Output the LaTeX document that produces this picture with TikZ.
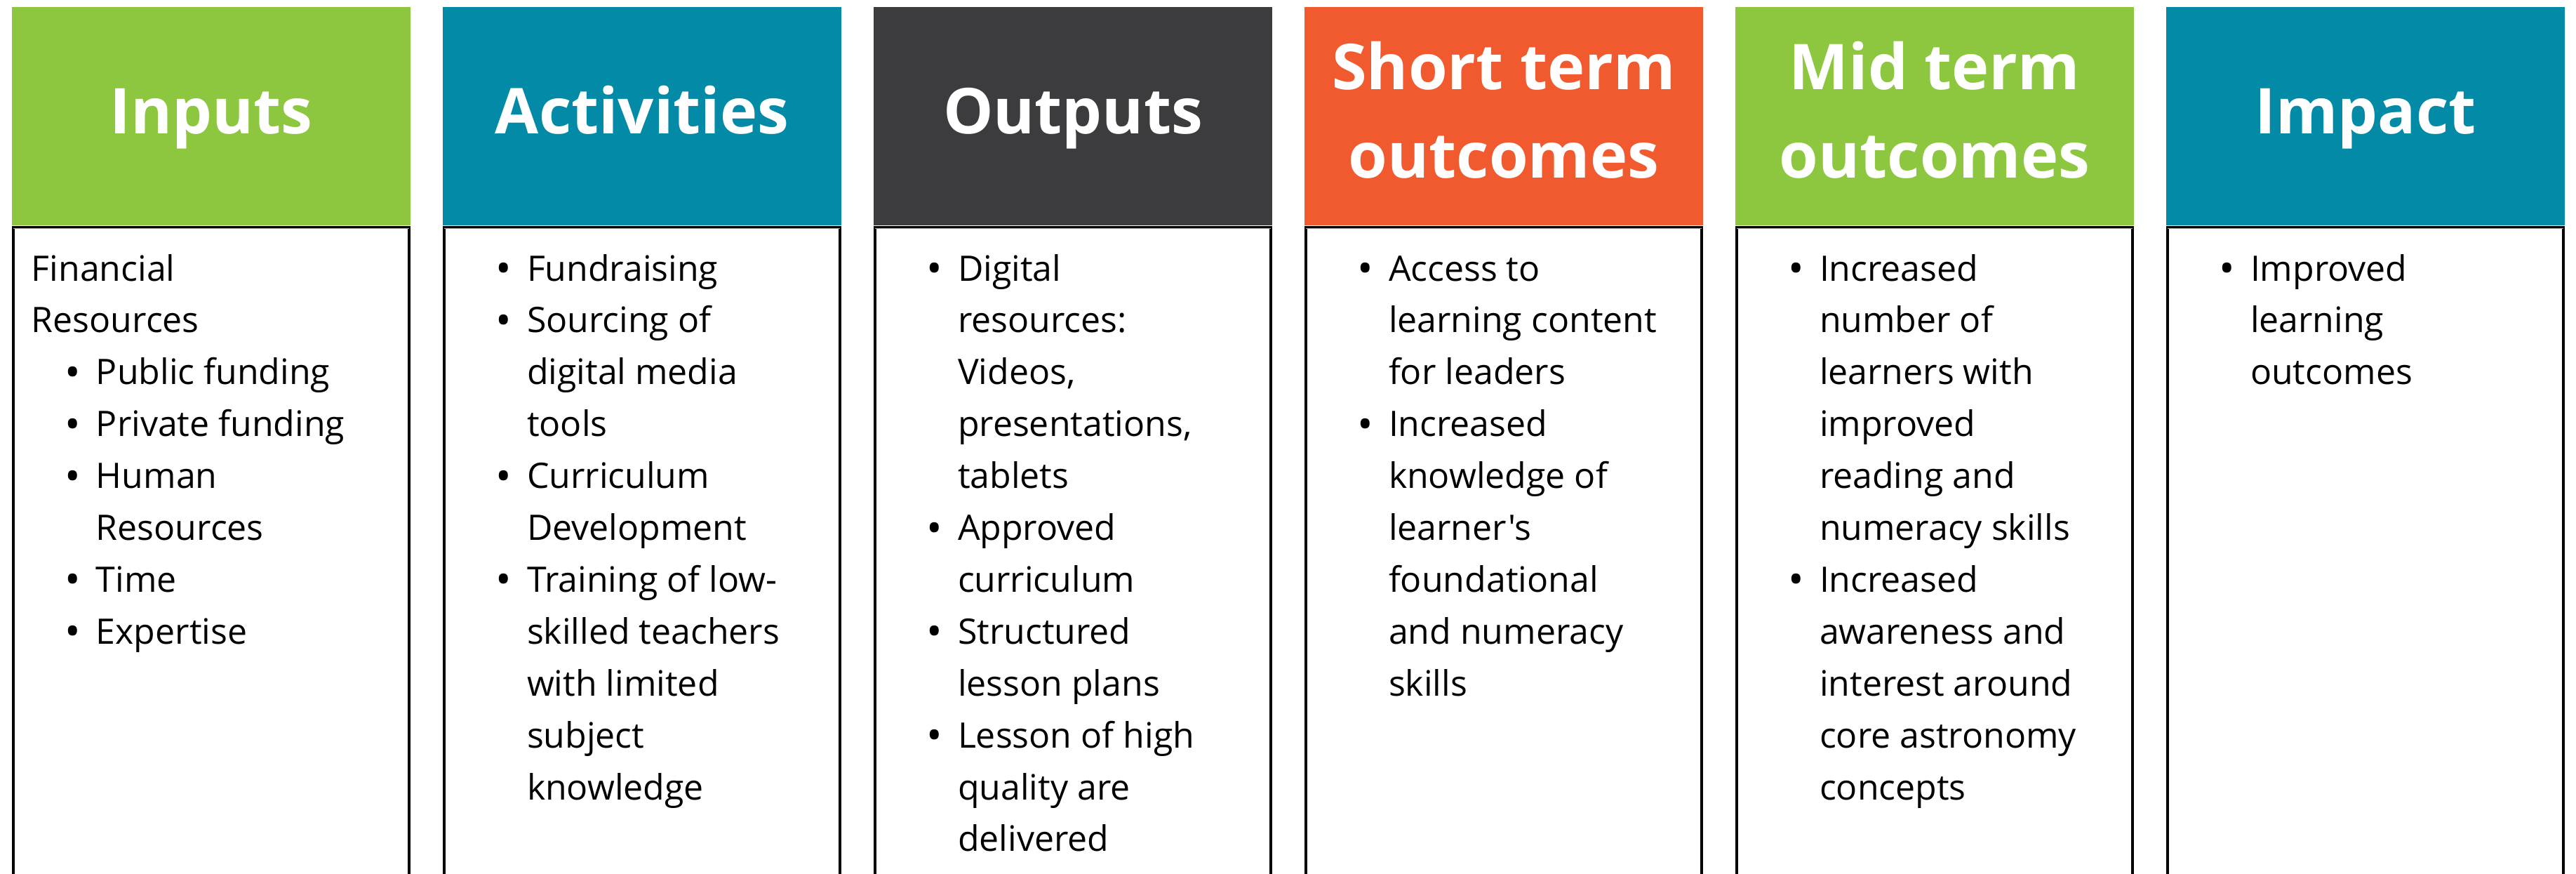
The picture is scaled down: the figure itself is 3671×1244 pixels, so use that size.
\documentclass[tikz,border=0pt]{standalone}
\usepackage{fontspec}
\setmainfont{Open Sans}[Ligatures=TeXOff]
\usepackage{array}
\definecolor{cgreen}{HTML}{8DC63F}
\definecolor{cteal}{HTML}{028AA6}
\definecolor{cdark}{HTML}{3C3C3E}
\definecolor{corange}{HTML}{F15A2E}
\newcommand\bul{\makebox[9.4pt][l]{\hspace*{0.5pt}\raisebox{-0.7pt}{\fontsize{12}{0}\selectfont •}}}
\newcommand\ind{\hspace*{9.4pt}}
\tikzset{
  hdr/.style={rectangle, draw=none, inner sep=0pt, minimum width=113.6pt, minimum height=62.2pt},
  htext/.style={inner sep=0pt, text=white, font=\fontsize{18}{25.2}\selectfont\bfseries, anchor=base},
  bodybox/.style={rectangle, draw=black, line width=0.8pt, fill=white, inner sep=0pt, minimum width=112.8pt, minimum height=195.2pt},
  btext/.style={inner sep=0pt, anchor=base west, font=\fontsize{10}{14.78}\selectfont, text=black},
  greyline/.style={draw=black!35, line width=0.25pt}
}
\begin{document}
\begin{tikzpicture}[x=0.2pt,y=-0.2pt]
\useasboundingbox (0,0) rectangle (3671,1244);
% header boxes
\node[hdr, fill=cgreen]  (hIn)  at (301,165.5)  {};
\node[hdr, fill=cteal]   (hAc)  at (915,165.5)  {};
\node[hdr, fill=cdark]   (hOu)  at (1529,165.5) {};
\node[hdr, fill=corange] (hST)  at (2143,165.5) {};
\node[hdr, fill=cgreen]  (hMT)  at (2757,165.5) {};
\node[hdr, fill=cteal]   (hIm)  at (3371,165.5) {};
% header texts
\node[htext] (tIn) at (301,190)  {Inputs};
\node[htext] (tAc) at (915,190)  {Activities};
\node[htext] (tOu) at (1529,190) {Outputs};
\node[htext] (tST) at (2143,127) {\begin{tabular}[t]{@{}c@{}}Short term\\outcomes\end{tabular}};
\node[htext] (tMT) at (2757,127) {\begin{tabular}[t]{@{}c@{}}Mid term\\outcomes\end{tabular}};
\node[htext] (tIm) at (3371,190) {Impact};
% body boxes
\node[bodybox] (bIn) at (301,812)  {};
\node[bodybox] (bAc) at (915,812)  {};
\node[bodybox] (bOu) at (1529,812) {};
\node[bodybox] (bST) at (2143,812) {};
\node[bodybox] (bMT) at (2757,812) {};
\node[bodybox] (bIm) at (3371,812) {};
\foreach \c in {bIn,bAc,bOu,bST,bMT,bIm}{
  \draw[greyline] ([xshift=0.4pt,yshift=-0.7pt]\c.north west) -- ([xshift=-0.4pt,yshift=-0.7pt]\c.north east);
}
% body texts
\node[btext] (xIn) at (44,400) {\begin{tabular}[t]{@{}l@{}}
Financial\\
Resources\\
\hspace*{9pt}\bul Public funding\\
\hspace*{9pt}\bul Private funding\\
\hspace*{9pt}\bul Human\\
\hspace*{9pt}\ind Resources\\
\hspace*{9pt}\bul Time\\
\hspace*{9pt}\bul Expertise
\end{tabular}};
\node[btext] (xAc) at (703,400) {\begin{tabular}[t]{@{}l@{}}
\bul Fundraising\\
\bul Sourcing of\\
\ind digital media\\
\ind tools\\
\bul Curriculum\\
\ind Development\\
\bul Training of low-\\
\ind skilled teachers\\
\ind with limited\\
\ind subject\\
\ind knowledge
\end{tabular}};
\node[btext] (xOu) at (1317,400) {\begin{tabular}[t]{@{}l@{}}
\bul Digital\\
\ind resources:\\
\ind Videos,\\
\ind presentations,\\
\ind tablets\\
\bul Approved\\
\ind curriculum\\
\bul Structured\\
\ind lesson plans\\
\bul Lesson of high\\
\ind quality are\\
\ind delivered
\end{tabular}};
\node[btext] (xST) at (1931,400) {\begin{tabular}[t]{@{}l@{}}
\bul Access to\\
\ind learning content\\
\ind for leaders\\
\bul Increased\\
\ind knowledge of\\
\ind learner's\\
\ind foundational\\
\ind and numeracy\\
\ind skills
\end{tabular}};
\node[btext] (xMT) at (2545,400) {\begin{tabular}[t]{@{}l@{}}
\bul Increased\\
\ind number of\\
\ind learners with\\
\ind improved\\
\ind reading and\\
\ind numeracy skills\\
\bul Increased\\
\ind awareness and\\
\ind interest around\\
\ind core astronomy\\
\ind concepts
\end{tabular}};
\node[btext] (xIm) at (3159,400) {\begin{tabular}[t]{@{}l@{}}
\bul Improved\\
\ind learning\\
\ind outcomes
\end{tabular}};
\end{tikzpicture}
\end{document}
